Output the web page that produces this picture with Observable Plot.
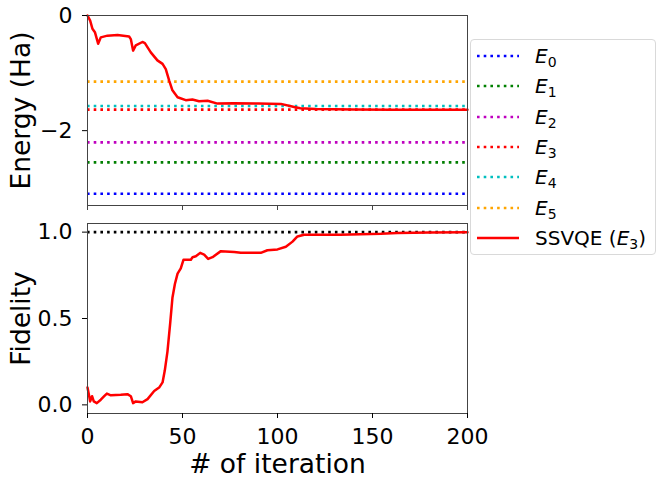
<!DOCTYPE html>
<html>
<head>
<meta charset="utf-8">
<script src="https://cdn.jsdelivr.net/npm/d3@7"></script>
<script src="https://cdn.jsdelivr.net/npm/@observablehq/plot@0.6"></script>
<style>
  html, body { margin: 0; padding: 0; background: white; }
  #wrap { position: relative; width: 664px; height: 485px; font-family: "DejaVu Sans", sans-serif; }
  #top, #bottom { position: absolute; left: 0; }
  #top { top: 0; }
  #bottom { top: 215px; }
  #legend { position: absolute; left: 470px; top: 39px; width: 186px; height: 216px;
    border: 1px solid #d9d9d9; border-radius: 4px; background: rgba(255,255,255,0.85); box-sizing: border-box; }
  .entry { position: absolute; left: 0; height: 30px; display: flex; align-items: center; font-size: 20px; color: #000; }
  .entry svg { margin-left: 6px; margin-right: 16px; }
  .entry i { font-style: italic; }
  .entry sub { font-size: 14px; vertical-align: -4px; line-height: 0; }
</style>
</head>
<body>
<div id="wrap">
  <div id="top"></div>
  <div id="bottom"></div>
  <div id="legend"></div>
</div>
<script>
// ---- data ----
const levelNames = ["0", "1", "2", "3", "4", "5"];
const levelValues = [-3.096, -2.551, -2.203, -1.635, -1.571, -1.148];
const levelColors = ["#0000ff", "#008000", "#bf00bf", "#ff0000", "#00bfbf", "#ffa500"];

const iterE = [0, 1.4, 2.6, 3.9, 5.6, 7, 10.5, 15.8, 21.9, 22.8, 24, 25.4, 28.9, 30.2, 33.3, 36.8, 39.5, 41.2, 43, 44.7, 47.4, 51.7, 55.2, 58.7, 63.2, 68.4, 77, 90, 101.8, 108.8, 112, 120, 140, 160, 180, 200];
const energy = [0, -0.09, -0.23, -0.29, -0.49, -0.38, -0.35, -0.34, -0.365, -0.41, -0.61, -0.52, -0.46, -0.48, -0.64, -0.78, -0.84, -0.93, -1.13, -1.30, -1.42, -1.47, -1.46, -1.49, -1.48, -1.53, -1.525, -1.53, -1.535, -1.59, -1.61, -1.625, -1.632, -1.635, -1.636, -1.637];

const iterF = [0, 0.9, 1.4, 2.4, 3.3, 4.9, 7, 8.8, 10.2, 12.3, 17.5, 21, 22.8, 24, 25.4, 28.9, 31.6, 35.1, 37.7, 39.5, 40.7, 42.1, 43.5, 44.7, 46, 47.4, 49.1, 50.5, 52.6, 54.4, 55.3, 57, 59.3, 61.4, 63.5, 65.8, 70.2, 77.2, 80.7, 91.2, 94.7, 100, 104.4, 107.9, 110.5, 114, 133, 154.4, 163, 180, 200];
const fidelity = [0.10, 0.05, 0.02, 0.05, 0.02, 0.01, 0.03, 0.05, 0.065, 0.055, 0.058, 0.062, 0.05, 0.01, 0.02, 0.015, 0.033, 0.08, 0.10, 0.13, 0.20, 0.31, 0.47, 0.62, 0.70, 0.76, 0.79, 0.84, 0.84, 0.84, 0.855, 0.86, 0.88, 0.87, 0.845, 0.855, 0.89, 0.885, 0.88, 0.88, 0.895, 0.90, 0.915, 0.945, 0.975, 0.985, 0.985, 0.99, 0.995, 0.998, 0.999];

const xTicks = [0, 50, 100, 150, 200];
const energyTicks = [0, -2];
const fidelityTicks = [0, 0.5, 1.0];
const curveName = "SSVQE";
const curveTarget = "3";

// ---- build tables ----
const levels = levelValues.map((v, i) => ({name: levelNames[i], value: v, color: levelColors[i]}));
const energyData = iterE.map((x, i) => ({x, y: energy[i]}));
const fidData = iterF.map((x, i) => ({x, y: fidelity[i]}));

const font = {fontFamily: "DejaVu Sans, sans-serif", fontSize: "22px", background: "transparent", color: "#000"};
const dots = "2.6,4.1";
const spine = "#444";

const topPlot = Plot.plot({
  width: 664, height: 215,
  marginLeft: 87, marginRight: 197, marginTop: 15, marginBottom: 10,
  style: font,
  x: {domain: [0, 200]},
  y: {domain: [-3.30, 0]},
  color: {type: "identity"},
  marks: [
    Plot.ruleY(levels, {y: "value", stroke: "color", strokeWidth: 2.6, strokeDasharray: dots}),
    Plot.line(energyData, {x: "x", y: "y", stroke: "#ff0000", strokeWidth: 2.5}),
    Plot.frame({stroke: spine, strokeWidth: 1}),
    Plot.axisX({ticks: xTicks, tickSize: 5, tickFormat: () => "", label: null, stroke: spine}),
    Plot.axisY({ticks: energyTicks, tickSize: 5, tickPadding: 10, tickFormat: d => d === 0 ? "0" : "\u2212" + Math.abs(d), label: null, fontSize: 22}),
    Plot.text(["Energy (Ha)"], {frameAnchor: "left", rotate: -90, dx: -66, fontSize: 26.5, lineAnchor: "middle", textAnchor: "middle"})
  ]
});
document.getElementById("top").append(topPlot);

const bottomPlot = Plot.plot({
  width: 664, height: 270,
  marginLeft: 87, marginRight: 197, marginTop: 8, marginBottom: 72,
  style: font,
  x: {domain: [0, 200]},
  y: {domain: [-0.05, 1.05]},
  marks: [
    Plot.ruleY([1], {stroke: "#000", strokeWidth: 2.6, strokeDasharray: dots}),
    Plot.line(fidData, {x: "x", y: "y", stroke: "#ff0000", strokeWidth: 2.5}),
    Plot.frame({stroke: spine, strokeWidth: 1}),
    Plot.axisX({ticks: xTicks, tickSize: 5, tickPadding: 10, tickFormat: d => String(d), label: null, fontSize: 22}),
    Plot.axisY({ticks: fidelityTicks, tickSize: 5, tickPadding: 10, tickFormat: d => d.toFixed(1), label: null, fontSize: 22}),
    Plot.text(["Fidelity"], {frameAnchor: "left", rotate: -90, dx: -66, fontSize: 26.5, lineAnchor: "middle", textAnchor: "middle"}),
    Plot.text(["# of iteration"], {frameAnchor: "bottom", dy: 51, fontSize: 26.5, lineAnchor: "middle", textAnchor: "middle"})
  ]
});
document.getElementById("bottom").append(bottomPlot);

// ---- legend ----
const legend = document.getElementById("legend");
const entries = levels.map(l => ({color: l.color, dotted: true, html: `<i>E</i><sub>${l.name}</sub>`}));
entries.push({color: "#ff0000", dotted: false, html: `${curveName} (<i>E</i><sub>${curveTarget}</sub>)`});
entries.forEach((e, i) => {
  const div = document.createElement("div");
  div.className = "entry";
  div.style.top = (1 + i * 30.3) + "px";
  div.innerHTML = `<svg width="42" height="10"><line x1="0" x2="42" y1="5" y2="5" stroke="${e.color}" stroke-width="${e.dotted ? 2.6 : 2.5}" ${e.dotted ? `stroke-dasharray="${dots}"` : ""}/></svg><span>${e.html}</span>`;
  legend.append(div);
});
</script>
</body>
</html>
